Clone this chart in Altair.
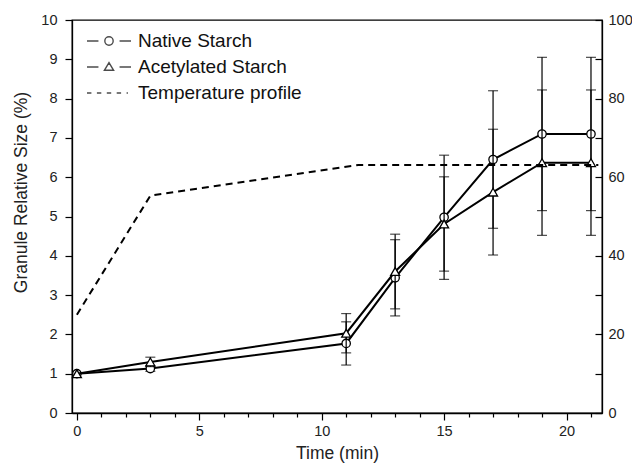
import altair as alt
import pandas as pd

times = [0, 3, 11, 13, 15, 17, 19, 21]
native = [1.0, 1.13, 1.77, 3.44, 4.98, 6.45, 7.1, 7.1]
native_err = [0.0, 0.07, 0.55, 0.97, 1.58, 1.75, 1.95, 1.95]
acet = [1.0, 1.30, 2.03, 3.60, 4.81, 5.62, 6.37, 6.37]
acet_err = [0.0, 0.12, 0.50, 0.95, 1.20, 1.60, 1.85, 1.85]

temp_time = [0, 3, 11.5, 21.3]
temp_val = [25, 55.3, 63.1, 63.1]

legend_labels = ["Native Starch", "Acetylated Starch", "Temperature profile"]

rows = []
for t, v, e in zip(times, native, native_err):
    rows.append({"time": t, "val": v, "lo": v - e, "hi": v + e, "err": e, "series": "Native Starch"})
for t, v, e in zip(times, acet, acet_err):
    rows.append({"time": t, "val": v, "lo": v - e, "hi": v + e, "err": e, "series": "Acetylated Starch"})
df = pd.DataFrame(rows)
df_temp = pd.DataFrame({"time": temp_time, "temp": temp_val})
df_leg = pd.DataFrame({"time": [-5.0] * 3, "val": [-5.0] * 3, "series": legend_labels})

FONT = "Liberation Sans"
W, H = 530, 393

x_scale = alt.Scale(domain=[-0.2, 21.45], nice=False, zero=False)
y_scale = alt.Scale(domain=[0, 10], nice=False, zero=False)

x_axis = alt.Axis(
    values=list(range(0, 22)),
    labelExpr="datum.value % 5 === 0 ? datum.label : ''",
    format="d",
    tickSize={"condition": {"test": "datum.value % 5 === 0", "value": 7}, "value": 4},
    labelPadding=4,
    title="Time (min)",
    titlePadding=7,
    grid=False,
)
y_axis = alt.Axis(
    values=[i * 0.5 for i in range(21)],
    labelExpr="datum.value % 1 === 0 ? datum.label : ''",
    format="d",
    tickSize={"condition": {"test": "datum.value % 1 === 0", "value": 7}, "value": 4},
    labelPadding=8,
    title="Granule Relative Size (%)",
    titlePadding=10,
    titleY=172,
    grid=False,
)

X = alt.X("time:Q", scale=x_scale, axis=x_axis)


def Y(field):
    return alt.Y(field, scale=y_scale, axis=y_axis)


def series_layers(name, shape, size):
    d = df[df["series"] == name]
    de = d[d["err"] > 0]
    line = alt.Chart(d).mark_line(color="black", strokeWidth=2).encode(x=X, y=Y("val:Q"))
    rule = alt.Chart(de).mark_rule(color="black", strokeWidth=1.2).encode(
        x=X, y=Y("lo:Q"), y2="hi:Q"
    )
    cap_lo = alt.Chart(de).mark_tick(color="black", orient="horizontal", size=10, thickness=1.2).encode(
        x=X, y=Y("lo:Q")
    )
    cap_hi = alt.Chart(de).mark_tick(color="black", orient="horizontal", size=10, thickness=1.2).encode(
        x=X, y=Y("hi:Q")
    )
    pts = alt.Chart(d).mark_point(
        shape=shape, size=size, fill="white", stroke="black", strokeWidth=1.3, opacity=1, fillOpacity=1
    ).encode(x=X, y=Y("val:Q"))
    return [line, rule, cap_lo, cap_hi, pts]


sym_native = "M-1,0H-0.48M0.48,0H1M0.19,0A0.19,0.19 0 1 1 -0.19,0A0.19,0.19 0 1 1 0.19,0Z"
sym_acet = "M-1,0H-0.48M0.48,0H1M0,-0.2L0.21,0.15L-0.21,0.15Z"
sym_temp = "M-1,0H-0.8M-0.55,0H-0.35M-0.1,0H0.1M0.35,0H0.55M0.8,0H0.86"

legend_layer = alt.Chart(df_leg).mark_point(clip=True, color="black", filled=False, strokeWidth=1.4).encode(
    x=X,
    y=Y("val:Q"),
    shape=alt.Shape(
        "series:N",
        scale=alt.Scale(domain=legend_labels, range=[sym_native, sym_acet, sym_temp]),
        legend=alt.Legend(
            title=None,
            orient="none",
            legendX=14,
            legendY=10,
            symbolSize=1936,
            clipHeight=22,
            symbolStrokeColor="black",
            symbolFillColor="white",
            symbolStrokeWidth=1.4,
            labelFontSize=19,
            labelFont=FONT,
            labelColor="#111",
            labelOffset=6,
            labelLimit=400,
            rowPadding=4,
            padding=0,
        ),
    ),
)

left = alt.layer(
    *series_layers("Native Starch", "circle", 70),
    *series_layers("Acetylated Starch", "triangle-up", 80),
    legend_layer,
)

temp_line = alt.Chart(df_temp).mark_line(color="black", strokeWidth=2, strokeDash=[7, 5]).encode(
    x=X,
    y=alt.Y(
        "temp:Q",
        scale=alt.Scale(domain=[0, 100], nice=False, zero=False),
        axis=alt.Axis(
            orient="left",
            offset=-W,
            values=list(range(0, 101, 10)),
            labelExpr="datum.value % 20 === 0 ? datum.label : ''",
            format="d",
            tickSize=7,
            labelPadding=-13,
            labelAlign="left",
            title=None,
            grid=False,
        ),
    ),
)

chart = (
    alt.layer(left, temp_line)
    .resolve_scale(y="independent")
    .properties(
        width=W,
        height=H,
        autosize=alt.AutoSizeParams(type="none"),
        padding={"left": 64, "top": 12, "right": 30, "bottom": 51},
    )
    .configure_view(stroke="black", strokeWidth=1.3)
    .configure_axis(
        domainColor="black",
        domainWidth=1.3,
        tickColor="black",
        tickWidth=1.2,
        labelFont=FONT,
        labelFontSize=14.5,
        labelColor="#222",
        titleFont=FONT,
        titleFontSize=17.5,
        titleFontWeight="normal",
        titleColor="#222",
    )
)

chart.save("out.html", embed_options={"renderer": "svg", "actions": False})
